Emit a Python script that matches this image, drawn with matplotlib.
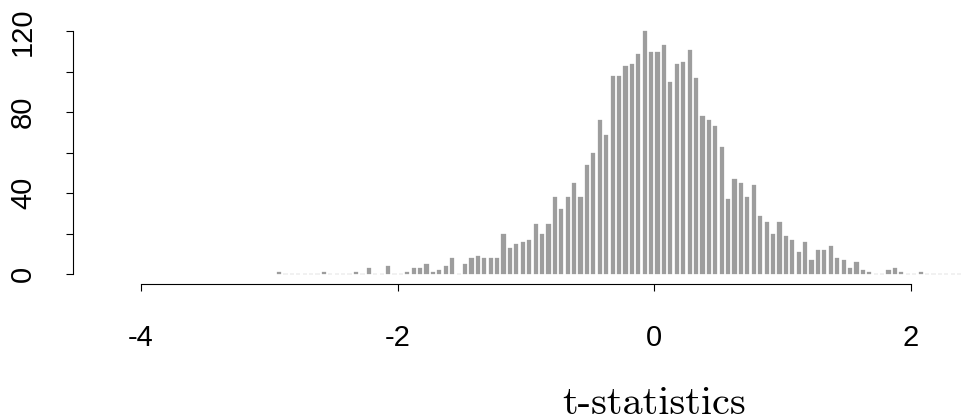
import numpy as np
import matplotlib
matplotlib.use("Agg")
import matplotlib.pyplot as plt
from matplotlib.transforms import blended_transform_factory

# Histogram of t-statistics: bin width 0.05, first bin [-2.95, -2.90]
bin_width = 0.05
first_bin_left = -2.95
counts = [
    1, 0, 0, 0, 0, 0, 0, 1, 0, 0, 0, 0, 1, 0, 3, 0, 0, 4, 0, 0,   # -2.95 .. -2.00
    1, 3, 3, 5, 1, 2, 4, 8, 0, 5, 8, 9, 8, 8, 8, 20, 13, 15, 16, 17,  # -2.00 .. -1.00
    25, 20, 25, 38, 32, 38, 45, 38, 54, 60, 76, 69, 98, 98, 103, 104, 109, 120, 110, 110,  # -1.00 .. 0.00
    113, 95, 104, 105, 111, 97, 78, 76, 73, 63, 37, 47, 45, 38, 44, 29, 26, 20, 26, 19,  # 0.00 .. 1.00
    17, 11, 16, 7, 12, 12, 14, 8, 7, 3, 6, 2, 1, 0, 0, 2, 3, 1, 0, 0,  # 1.00 .. 2.00
    1, 0, 0, 0, 0, 0, 0,  # 2.00 .. 2.35
]
x_ticks = [-4, -2, 0, 2]
x_tick_labels = ["-4", "-2", "0", "2"]
y_ticks = [0, 20, 40, 60, 80, 100, 120]
y_tick_labels = ["0", "", "40", "", "80", "", "120"]
x_label = "t-statistics"

W, H = 968, 416
fig = plt.figure(figsize=(W / 100, H / 100), dpi=100)
left_px, right_px = 73, 968
bottom_px, top_px = 284, 21.6
ax = fig.add_axes([left_px / W, (H - bottom_px) / H,
                   (right_px - left_px) / W, (bottom_px - top_px) / H])

centers = first_bin_left + bin_width * (np.arange(len(counts)) + 0.5)
bar_color = "#9d9d9d"
ax.bar(centers, counts, width=0.033, color=bar_color, edgecolor=bar_color,
       linewidth=0.2, align="center")

ax.set_xlim(-4.53, -4.53 + (right_px - left_px) / 128.33)
ax.set_ylim(-4.8, 124.8)

for s in ["top", "right"]:
    ax.spines[s].set_visible(False)
ax.spines["left"].set_bounds(0, 120)
ax.spines["bottom"].set_bounds(-4, 2)
for s in ["left", "bottom"]:
    ax.spines[s].set_linewidth(0.8)
    ax.spines[s].set_color("black")

ax.set_xticks(x_ticks)
ax.set_xticklabels(x_tick_labels)
ax.set_yticks(y_ticks)
ax.set_yticklabels(y_tick_labels, rotation=90, va="center")

tick_family = ["Liberation Sans", "DejaVu Sans"]
for lab in ax.get_xticklabels() + ax.get_yticklabels():
    lab.set_fontfamily(tick_family)
    lab.set_fontsize(21)

ax.tick_params(axis="x", direction="out", length=5, width=0.8, pad=24, colors="black")
ax.tick_params(axis="y", direction="out", length=5, width=0.8, pad=21, colors="black")

# x label centred on x = 0 as in the reference
trans = blended_transform_factory(ax.transData, fig.transFigure)
ax.text(0, (H - 414) / H, x_label, transform=trans, ha="center", va="baseline",
        family=["cmr10", "DejaVu Serif"], fontsize=29)

fig.savefig("out.png", dpi=100)
